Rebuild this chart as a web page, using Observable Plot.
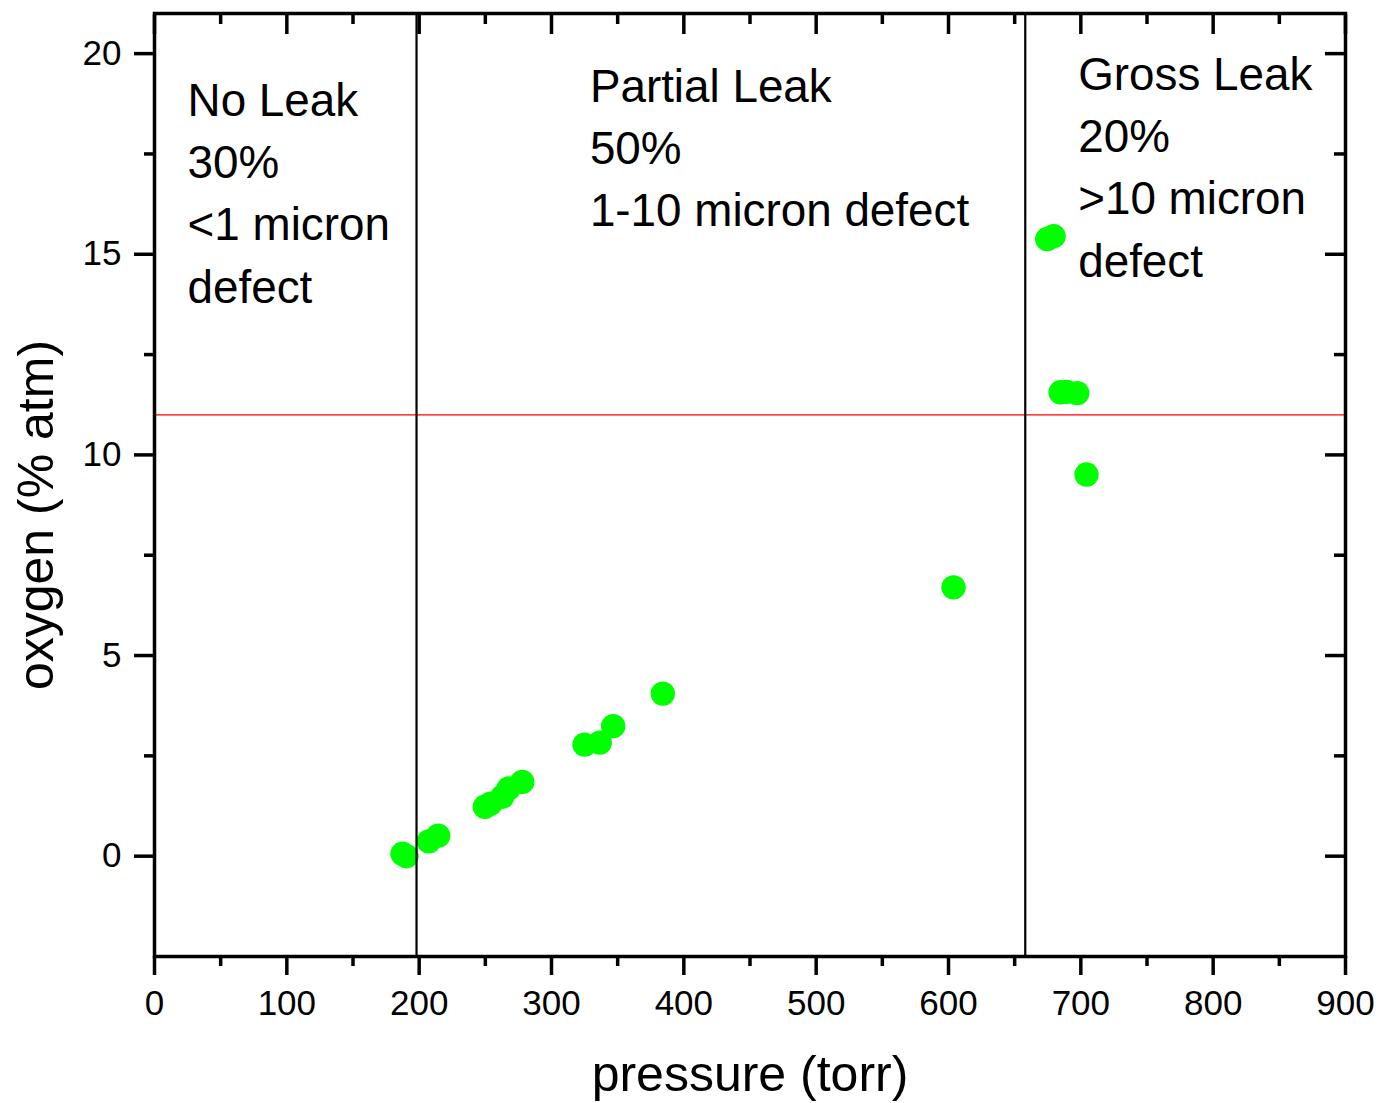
<!DOCTYPE html>
<html>
<head>
<meta charset="utf-8">
<script src="https://cdn.jsdelivr.net/npm/d3@7"></script>
<script src="https://cdn.jsdelivr.net/npm/@observablehq/plot@0.6"></script>
<style>
  html, body { margin: 0; padding: 0; background: #fff; }
  #chart svg { display: block; }
</style>
</head>
<body>
<div id="chart"></div>
<script>
// Data
const pressure = [187.4, 190.4, 207.3, 214.4, 249.6, 253.9, 262.8, 267.7, 277.9, 325, 336.5, 346.6, 384.1, 603.8, 674.6, 679.4, 684.7, 689.2, 697.3, 704.3];
const oxygen   = [0.06, 0.0, 0.37, 0.51, 1.23, 1.31, 1.48, 1.69, 1.85, 2.78, 2.83, 3.24, 4.05, 6.70, 15.38, 15.45, 11.56, 11.57, 11.54, 9.51];

const regionBounds = [198, 658];      // vertical divider lines (torr)
const thresholdO2 = [11];             // red horizontal line (% atm)

const regionLabels = ["No Leak\n30%\n<1 micron\ndefect", "Partial Leak\n50%\n1-10 micron defect", "Gross Leak\n20%\n>10 micron\ndefect"];
const regionLabelX = [25, 329, 698];
const regionLabelY = [19.55, 19.9, 20.2];

const xMajor = [0, 100, 200, 300, 400, 500, 600, 700, 800, 900];
const xMinor = [50, 150, 250, 350, 450, 550, 650, 750, 850];
const yMajor = [0, 5, 10, 15, 20];
const yMinor = [2.5, 7.5, 12.5, 17.5];

const xTitle = "pressure (torr)";
const yTitle = "oxygen (% atm)";

const points = pressure.map((p, i) => ({pressure: p, oxygen: oxygen[i]}));
const labels = regionLabels.map((t, i) => ({text: t, x: regionLabelX[i], y: regionLabelY[i]}));

const noText = () => "";
const tickW = 3.5;

const chart = Plot.plot({
  width: 1382,
  height: 1103,
  marginLeft: 154,
  marginRight: 37,
  marginTop: 13,
  marginBottom: 147,
  style: {fontFamily: "'Liberation Sans', Arial, Helvetica, sans-serif", color: "#000", background: "#fff"},
  x: {domain: [0, 900]},
  y: {domain: [-2.5, 21]},
  marks: [
    // bottom axis (outward)
    Plot.axisX(xMajor, {anchor: "bottom", tickSize: 19, tickPadding: 15, fontSize: 35, strokeWidth: tickW, label: null}),
    Plot.axisX(xMinor, {anchor: "bottom", tickSize: 10, tickFormat: noText, strokeWidth: tickW, label: null}),
    // top axis (inward)
    Plot.axisX(xMajor, {anchor: "top", tickSize: 20, dy: 20, tickFormat: noText, strokeWidth: tickW, label: null}),
    Plot.axisX(xMinor, {anchor: "top", tickSize: 10, dy: 10, tickFormat: noText, strokeWidth: tickW, label: null}),
    // left axis (outward)
    Plot.axisY(yMajor, {anchor: "left", tickSize: 20, tickPadding: 13, fontSize: 35, strokeWidth: tickW, label: null}),
    Plot.axisY(yMinor, {anchor: "left", tickSize: 10, tickFormat: noText, strokeWidth: tickW, label: null}),
    // right axis (inward)
    Plot.axisY(yMajor, {anchor: "right", tickSize: 21, dx: -21, tickFormat: noText, strokeWidth: tickW, label: null}),
    Plot.axisY(yMinor, {anchor: "right", tickSize: 12, dx: -12, tickFormat: noText, strokeWidth: tickW, label: null}),
    // data
    Plot.dot(points, {x: "pressure", y: "oxygen", r: 12.2, fill: "#00ff00", stroke: "none"}),
    Plot.ruleY(thresholdO2, {stroke: "#ff0000", strokeWidth: 1.3}),
    Plot.ruleX(regionBounds, {stroke: "#000", strokeWidth: 2.2}),
    Plot.frame({stroke: "#000", strokeWidth: 3.5}),
    // region annotations
    Plot.text(labels, {x: "x", y: "y", text: "text", textAnchor: "start", lineAnchor: "top", lineHeight: 1.36, fontSize: 45.8, fill: "#000"}),
    // axis titles
    Plot.text([xTitle], {frameAnchor: "bottom", dy: 118, fontSize: 50, textAnchor: "middle", lineAnchor: "middle", fill: "#000"}),
    Plot.text([yTitle], {frameAnchor: "left", dx: -118, dy: 30, rotate: -90, fontSize: 50, textAnchor: "middle", lineAnchor: "middle", fill: "#000"})
  ]
});

document.getElementById("chart").appendChild(chart);
</script>
</body>
</html>
